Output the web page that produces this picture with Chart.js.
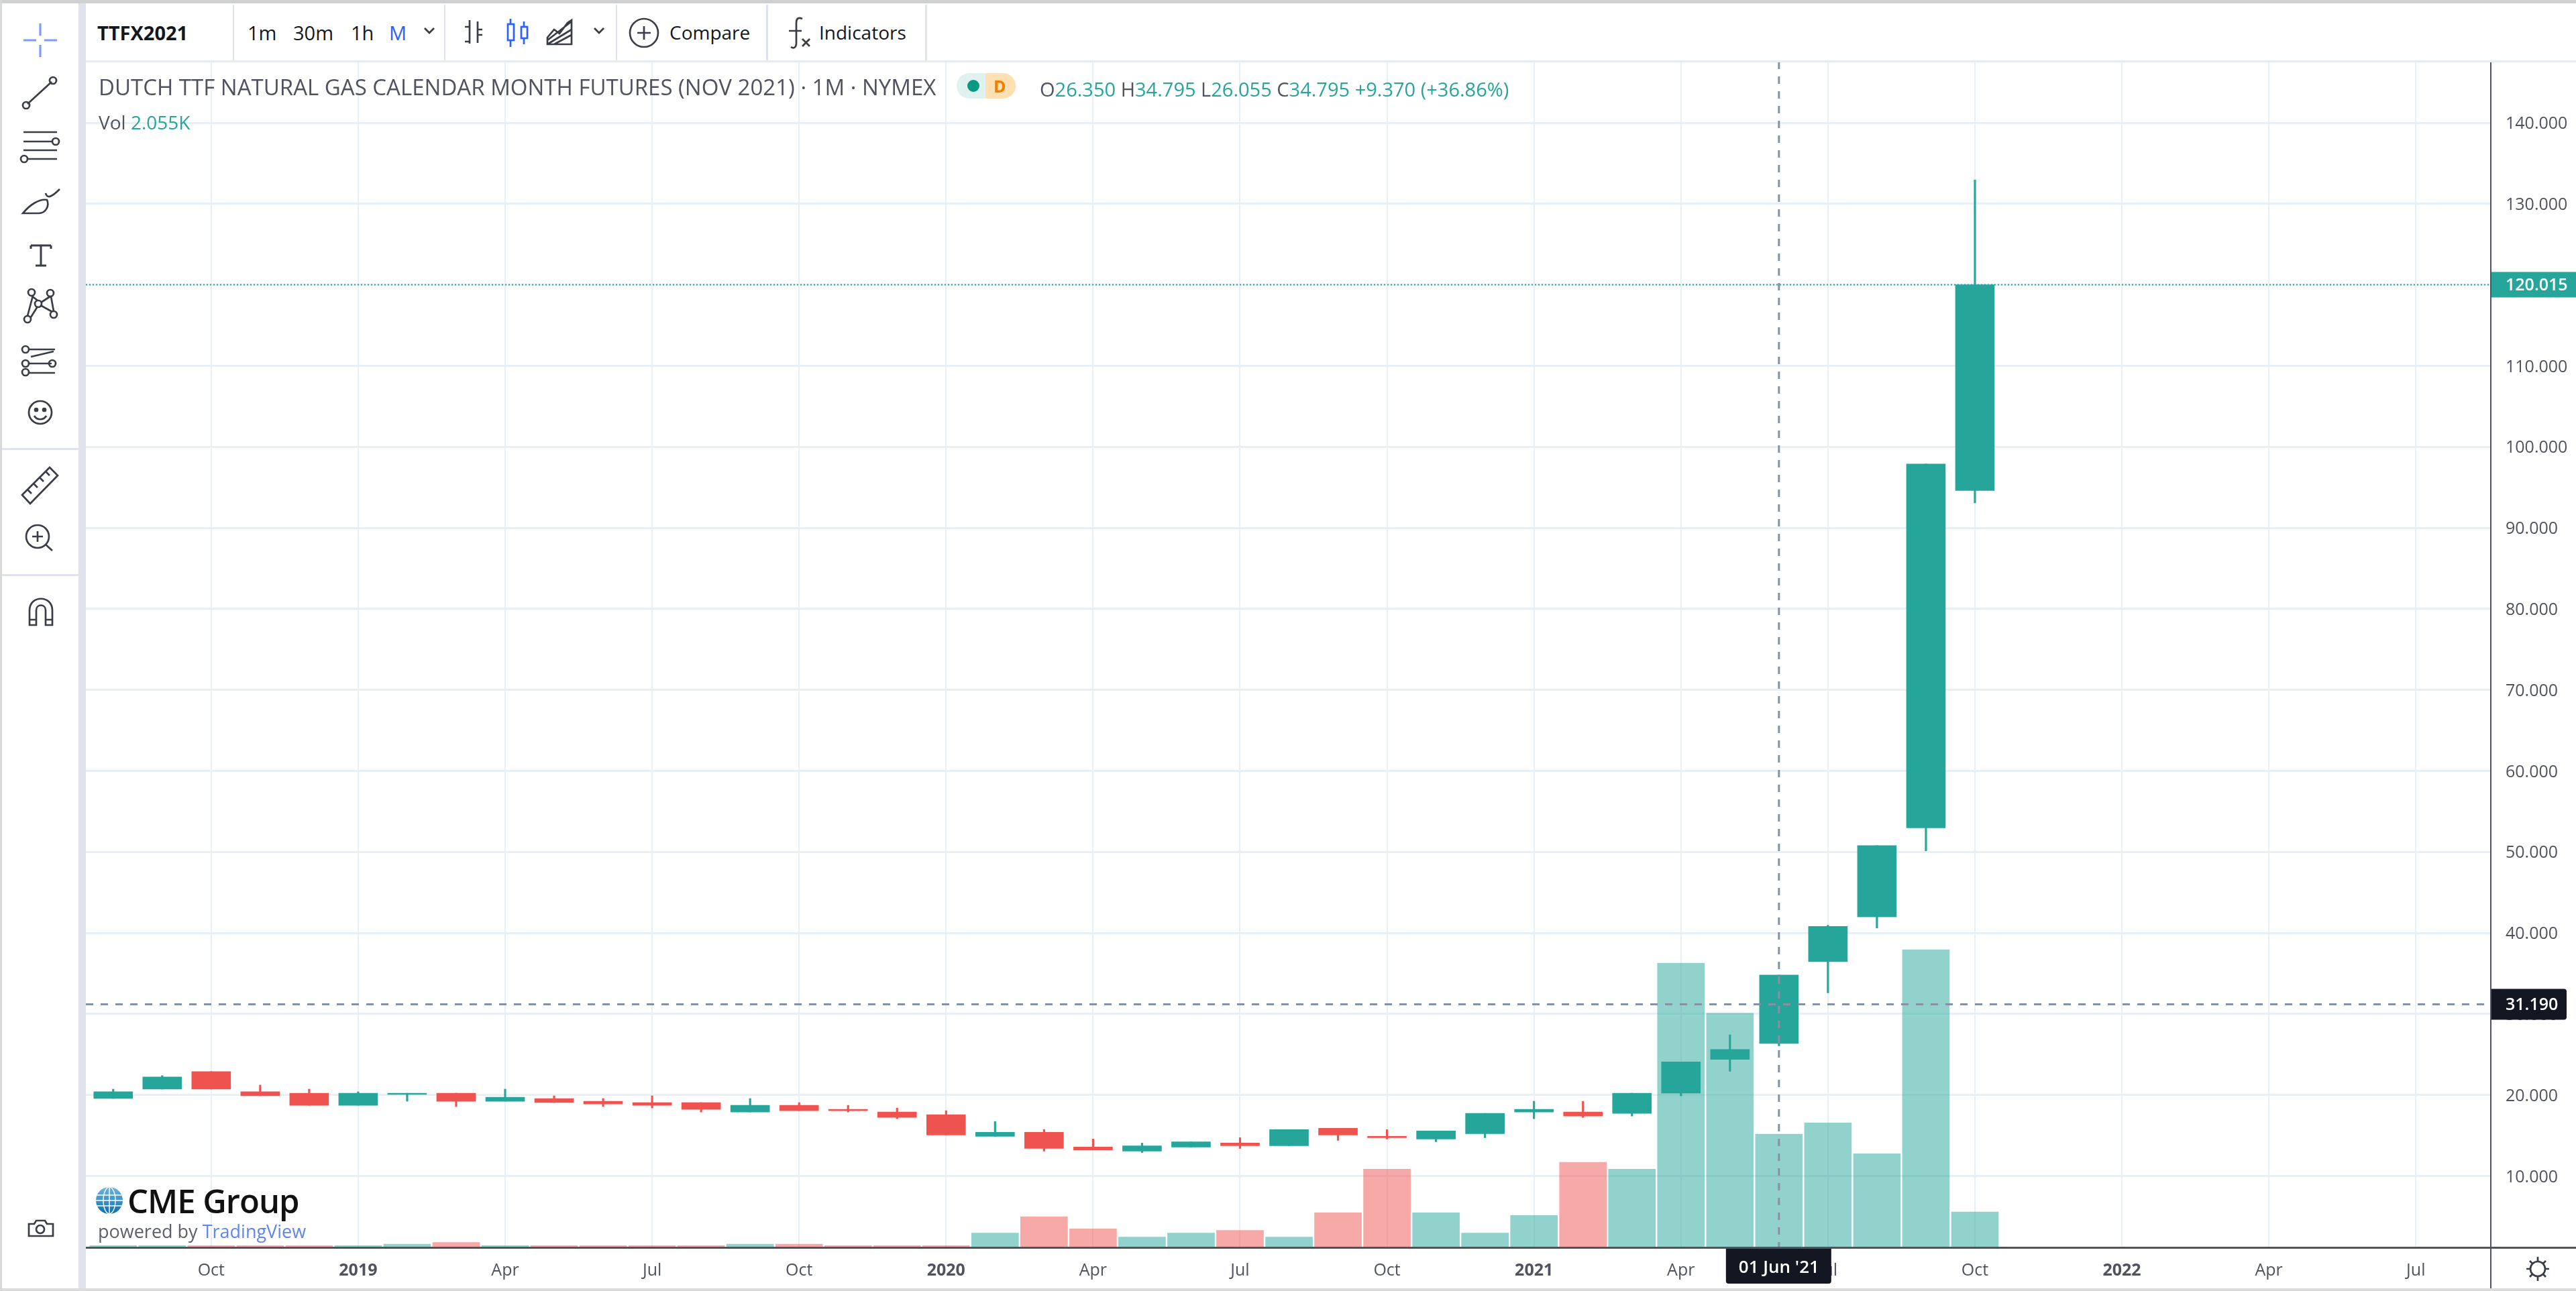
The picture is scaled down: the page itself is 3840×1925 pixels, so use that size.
<!DOCTYPE html>
<html>
<head>
<meta charset="utf-8">
<title>TTFX2021</title>
<script src="https://cdn.jsdelivr.net/npm/chart.js@4"></script>
<style>
    html, body { margin: 0; padding: 0; background: #fff; width: 3840px; height: 1925px; overflow: hidden; font-family: "Open Sans", sans-serif; }
    canvas { position: absolute; left: 0; top: 0; }
    .box { position: absolute; }
    .t { position: absolute; white-space: nowrap; transform: translateY(-50%); color: #131722; line-height: 1; }
    .legend { color: #50535e; font-size: 33px; }
    .teal { color: #26a69a; }
    svg.icon { position: absolute; fill: none; stroke: #3a3d45; stroke-width: 2.7; overflow: visible; }
</style>
</head>
<body>
<canvas id="chart" width="3840" height="1925"></canvas>

<div class="box" style="left:0;top:0;width:3840px;height:5px;background:#cfd0d1"></div>
<div class="box" style="left:0;top:1921px;width:3840px;height:4px;background:#dcdcdc"></div>
<div class="box" style="left:0;top:0;width:3px;height:1925px;background:#d8d9da"></div>

<!-- left drawing toolbar -->
<div class="box" style="left:117px;top:5px;width:11px;height:1916px;background:#e0e3eb"></div>
<div class="box" style="left:3px;top:668px;width:114px;height:3px;background:#e0e3eb"></div>
<div class="box" style="left:3px;top:856px;width:114px;height:3px;background:#e0e3eb"></div>
<svg class="icon" style="left:0;top:0" width="117" height="1925">
    <g stroke="#7d9cf5" stroke-width="3.2"><path d="M35 60h19M66 60h19M60 35v18M60 67v18"/></g>
    <path d="M41 155L77 122"/><circle cx="39" cy="157" r="5"/><circle cx="79" cy="120" r="5"/>
    <path d="M35 197h50M35 211h43M35 224h50M41 237h44"/><circle cx="83" cy="211" r="5"/><circle cx="36" cy="237" r="5"/>
    <path d="M34 318c10-12 24-22 36-20 4 9-2 20-12 20zM68 288c2 8 8 7 21-6"/>
    <path d="M46 366h30M61 366v30M53 396h16M46 366v5M76 366v5" stroke-width="3"/>
    <circle cx="47" cy="436" r="5"/><circle cx="75" cy="437" r="5"/><circle cx="57" cy="453" r="5"/><circle cx="41" cy="476" r="5"/><circle cx="80" cy="469" r="5"/>
    <path d="M47 441l9 7M75 442l-14 9M46 473l10-16M78 465l-18-10M49 441l-8 30M76 442l4 22"/>
    <path d="M43 521h39M43 542h34M43 556h39M46 532l34-8" /><circle cx="38" cy="521" r="5"/><circle cx="38" cy="542" r="5"/><circle cx="78" cy="542" r="5"/><circle cx="38" cy="555" r="5"/>
    <circle cx="60" cy="615" r="17"/><circle cx="54" cy="611" r="2" fill="#3a3d45"/><circle cx="66" cy="611" r="2" fill="#3a3d45"/><path d="M51 620c4 7 14 7 18 0"/>
    <path d="M33 738L74 697l12 12-41 42zM41 730l6 6M50 721l6 6M59 712l6 6M68 703l6 6"/>
    <circle cx="56" cy="800" r="17"/><path d="M68 812l10 9M48 800h16M56 792v16"/>
    <path d="M44 932v-22c0-23 34-23 34 0v22h-10v-22c0-10-14-10-14 0v22zM44 924h10M68 924h10"/>
    <path d="M43 1825h8l3-5h13l3 5h9v18H43z"/><circle cx="60" cy="1833" r="6"/>
</svg>

<!-- top toolbar -->
<div class="box" style="left:128px;top:5px;width:3712px;height:85px;background:#fff"></div>
<div class="box" style="left:128px;top:90px;width:3712px;height:3px;background:#e8ebf0"></div>
<div class="box" style="left:347px;top:7px;width:2px;height:83px;background:#e0e3eb"></div>
<div class="box" style="left:662px;top:7px;width:2px;height:83px;background:#e0e3eb"></div>
<div class="box" style="left:918px;top:7px;width:2px;height:83px;background:#e0e3eb"></div>
<div class="box" style="left:1142px;top:7px;width:3px;height:83px;background:#e0e3eb"></div>
<div class="box" style="left:1379px;top:7px;width:3px;height:83px;background:#e0e3eb"></div>
<div class="t" style="left:145px;top:48px;font-size:29px;font-weight:700">TTFX2021</div>
<div class="t" style="left:369px;top:48px;font-size:29px">1m</div>
<div class="t" style="left:437px;top:48px;font-size:29px">30m</div>
<div class="t" style="left:523px;top:48px;font-size:29px">1h</div>
<div class="t" style="left:580px;top:48px;font-size:29px;color:#2962ff">M</div>
<div class="t" style="left:998px;top:48px;font-size:28px">Compare</div>
<div class="t" style="left:1221px;top:48px;font-size:28px">Indicators</div>
<svg class="icon" style="left:0;top:0" width="1400" height="92">
    <path d="M633 42l7 7 7-7"/><path d="M886 42l7 7 7-7"/>
    <path d="M700 30v35M700 40h-7M700 62h-7M712 32v32M712 44h7M712 52h7"/>
    <g stroke="#2962ff"><rect x="757" y="36" width="9" height="24"/><path d="M761 28v8M761 60v10"/><rect x="777" y="40" width="9" height="17"/><path d="M781 32v8M781 57v9"/></g>
    <path d="M816 66v-10l10-12 8 6 12-16 6-4v36zM816 60l36-28M816 66l36-22M826 66l26-14"/>
    <circle cx="960" cy="49" r="21"/><path d="M950 49h20M960 39v20"/>
    <path d="M1196 28c-6-3-9 0-9 6v30c0 7-4 9-8 6M1176 46h19M1196 58l11 11M1207 58l-11 11"/>
</svg>

<!-- chart legend -->
<div class="t legend" style="left:147px;top:129px">DUTCH TTF NATURAL GAS CALENDAR MONTH FUTURES (NOV 2021) · 1M · NYMEX</div>
<div class="box" style="left:1426px;top:109px;width:88px;height:38px;border-radius:19px;background:#e0f2f0"></div>
<div class="box" style="left:1442px;top:119px;width:18px;height:18px;border-radius:9px;background:#089981"></div>
<div class="box" style="left:1469px;top:109px;width:45px;height:38px;border-radius:0 19px 19px 0;background:#ffe0b2"></div>
<div class="t" style="left:1481px;top:128px;font-size:25px;font-weight:700;color:#f57c00">D</div>
<div class="t legend" style="left:1550px;top:132px;font-size:29px">O<span class="teal">26.350</span> H<span class="teal">34.795</span> L<span class="teal">26.055</span> C<span class="teal">34.795</span> <span class="teal">+9.370 (+36.86%)</span></div>
<div class="t legend" style="left:147px;top:182px;font-size:28px">Vol <span class="teal">2.055K</span></div>

<!-- logo -->
<svg class="box" style="left:143px;top:1770px" width="40" height="40">
    <defs><linearGradient id="globe" x1="0" y1="0" x2="0" y2="1"><stop offset="0" stop-color="#6fb6dd"/><stop offset="1" stop-color="#0a6fae"/></linearGradient></defs>
    <ellipse cx="20" cy="20" rx="20" ry="20" fill="url(#globe)"/>
    <g fill="none" stroke="#fff" stroke-width="1.4"><ellipse cx="20" cy="20" rx="9" ry="20"/><path d="M20 0v40M1 12h38M0 20h40M1 28h38"/></g>
</svg>
<div class="t" style="left:190px;top:1790px;font-size:49px;font-weight:600;color:#111;letter-spacing:-1px">CME Group</div>
<div class="t" style="left:146px;top:1835px;font-size:27px;color:#5d606b">powered by <span style="color:#5f85f5">TradingView</span></div>

<!-- gear -->
<svg class="icon" style="left:3760px;top:1870px" width="46" height="46">
    <circle cx="23" cy="22" r="11"/><path d="M23 4v7M23 33v7M6 22h6M34 22h6M11 10l4 4M31 30l4 4M35 10l-4 4M15 30l-4 4"/>
</svg>

<script>
// monthly bars, first one is Aug 2018
var months = ["2018-08","2018-09","2018-10","2018-11","2018-12","2019-01","2019-02","2019-03","2019-04","2019-05","2019-06","2019-07","2019-08","2019-09","2019-10","2019-11","2019-12","2020-01","2020-02","2020-03","2020-04","2020-05","2020-06","2020-07","2020-08","2020-09","2020-10","2020-11","2020-12","2021-01","2021-02","2021-03","2021-04","2021-05","2021-06","2021-07","2021-08","2021-09","2021-10"];
var opens = [19.56,20.72,22.89,20.39,20.22,18.72,20.06,20.22,19.22,19.56,19.22,19.06,19.06,17.89,18.72,18.22,17.89,17.56,14.89,15.39,13.56,13.06,13.56,14.06,13.72,15.89,14.89,14.56,15.22,17.89,17.89,17.72,20.22,24.38,26.35,36.45,41.98,52.97,94.6];
var highs = [20.72,22.39,22.89,21.22,20.72,20.39,20.22,20.22,20.72,19.89,19.56,19.89,19.06,19.56,19.06,18.72,18.39,18.06,16.72,15.72,14.56,14.06,14.22,14.72,15.72,15.89,15.72,15.56,17.72,19.22,19.22,20.22,24.08,27.42,34.795,40.95,50.78,97.89,132.95];
var lows = [19.56,20.72,20.72,19.89,18.72,18.72,19.22,18.56,19.22,19.06,18.56,18.39,17.89,17.89,18.06,17.89,17.06,15.06,14.89,13.06,13.22,12.89,13.56,13.39,13.72,14.39,14.56,14.22,14.72,17.06,17.22,17.39,19.89,22.92,26.055,32.6,40.6,50.13,93.08];
var closes = [20.39,22.22,20.72,19.89,18.72,20.22,20.22,19.22,19.72,19.06,18.89,18.72,18.22,18.72,18.06,18.06,17.22,15.06,15.39,13.39,13.22,13.72,14.22,13.72,15.72,15.06,14.72,15.56,17.72,18.22,17.39,20.22,24.08,25.61,34.795,40.8,50.78,97.89,120.015];
var volumes = [33,33,33,33,33,33,60,90,33,33,33,33,33,60,60,33,33,33,261,555,335,188,261,310,188,628,1420,628,261,579,1542,1420,5154,4246,2055,2258,1699,5397,643];

var priceTicks = [10,20,30,40,50,60,70,80,90,100,110,120,130,140];
var timeTickBars = [2,5,8,11,14,17,20,23,26,29,32,35,38,41,44,47];
var timeTickLabels = ["Oct","2019","Apr","Jul","Oct","2020","Apr","Jul","Oct","2021","Apr","Jul","Oct","2022","Apr","Jul"];

var crossBar = 34;
var crossPrice = 31.19;
var crossDateLabel = "01 Jun '21";
var lastPrice = 120.015;

var GREEN = "#26a69a";
var RED = "#ef5350";
var GRID = "#e8f0f5";
var DARK = "#131722";
var FONT = '"Open Sans", sans-serif';

function barColor(i) { return closes[i] >= opens[i] ? GREEN : RED; }
function volColor(i) { return closes[i] >= opens[i] ? "rgba(38,166,154,0.5)" : "rgba(239,83,80,0.5)"; }

var overlay = {
    id: "overlay",
    afterDatasetsDraw: function(chart) {
        var c = chart.ctx;
        var area = chart.chartArea;
        var x = chart.scales.x.getPixelForValue(crossBar);
        var yCross = chart.scales.y.getPixelForValue(crossPrice);
        var yLast = chart.scales.y.getPixelForValue(lastPrice);

        c.save();
        // last price line
        c.strokeStyle = GREEN;
        c.lineWidth = 2;
        c.setLineDash([2, 3]);
        c.beginPath(); c.moveTo(area.left, yLast); c.lineTo(area.right, yLast); c.stroke();

        // crosshair
        c.strokeStyle = "#8692a3";
        c.lineWidth = 3;
        c.setLineDash([11, 11]);
        c.beginPath(); c.moveTo(x, area.top); c.lineTo(x, area.bottom); c.stroke();
        c.beginPath(); c.moveTo(area.left, yCross); c.lineTo(area.right, yCross); c.stroke();
        c.restore();
    },
    afterDraw: function(chart) {
        var c = chart.ctx;
        var area = chart.chartArea;
        var x = chart.scales.x.getPixelForValue(crossBar);
        var yCross = chart.scales.y.getPixelForValue(crossPrice);
        var yLast = chart.scales.y.getPixelForValue(lastPrice);

        c.save();
        // pane borders run on through the axis corner
        c.fillStyle = "#50535e";
        c.fillRect(area.left, area.bottom - 1, chart.width - area.left, 3);
        c.fillRect(area.right - 1, area.top, 2, chart.height - area.top);

        c.font = '600 25px ' + FONT;
        c.textBaseline = "middle";

        c.fillStyle = GREEN;
        c.fillRect(area.right + 1, yLast - 19, chart.width - area.right, 38);
        c.fillStyle = "#fff";
        c.fillText(lastPrice.toFixed(3), area.right + 22, yLast + 1);

        c.fillStyle = DARK;
        c.beginPath(); c.roundRect(area.right + 1, yCross - 23, 112, 46, [0, 4, 4, 0]); c.fill();
        c.fillStyle = "#fff";
        c.fillText(crossPrice.toFixed(3), area.right + 22, yCross + 1);

        c.fillStyle = DARK;
        c.beginPath(); c.roundRect(x - 79, area.bottom + 2, 157, 52, [0, 0, 4, 4]); c.fill();
        c.fillStyle = "#fff";
        c.textAlign = "center";
        c.font = '600 26px ' + FONT;
        c.fillText(crossDateLabel, x, area.bottom + 31);
        c.restore();
    }
};

var allBars = months.map(function(m, i) { return i; });

new Chart(document.getElementById("chart"), {
    type: "bar",
    data: {
        datasets: [{
            label: "Body",
            order: 1,
            grouped: false,
            barThickness: 58,
            yAxisID: "y",
            data: allBars.map(function(i) { return { x: i, y: [opens[i], closes[i]] }; }),
            backgroundColor: allBars.map(barColor)
        }, {
            label: "Wick",
            order: 2,
            grouped: false,
            barThickness: 2.5,
            yAxisID: "y",
            data: allBars.map(function(i) { return { x: i, y: [lows[i], highs[i]] }; }),
            backgroundColor: allBars.map(barColor)
        }, {
            label: "Vol",
            order: 3,
            grouped: false,
            barThickness: 70,
            yAxisID: "vol",
            data: allBars.map(function(i) { return { x: i, y: volumes[i] }; }),
            backgroundColor: allBars.map(volColor)
        }]
    },
    options: {
        responsive: false,
        animation: false,
        layout: { padding: { left: 128, top: 92, right: 0, bottom: 0 } },
        plugins: { legend: { display: false }, tooltip: { enabled: false } },
        scales: {
            x: {
                type: "linear",
                offset: false,
                min: -0.558,
                max: 48.53,
                afterBuildTicks: function(axis) {
                    axis.ticks = timeTickBars.map(function(v) { return { value: v }; });
                },
                afterFit: function(axis) { axis.height = 65; },
                border: { display: false },
                grid: { offset: false, color: GRID, lineWidth: 2, drawTicks: false },
                ticks: {
                    autoSkip: false,
                    maxRotation: 0,
                    padding: 20,
                    color: "#50535e",
                    font: function(ctx) {
                        var isYear = ctx.tick && /^20/.test(timeTickLabels[timeTickBars.indexOf(ctx.tick.value)]);
                        return { family: FONT, size: 25, weight: isYear ? "700" : "400" };
                    },
                    callback: function(v) { return timeTickLabels[timeTickBars.indexOf(v)]; }
                }
            },
            y: {
                position: "right",
                min: 1.18,
                max: 147.54,
                afterBuildTicks: function(axis) {
                    axis.ticks = priceTicks.map(function(v) { return { value: v }; });
                },
                afterFit: function(axis) { axis.width = 127; },
                border: { display: false },
                grid: { color: GRID, lineWidth: 3, drawTicks: false },
                ticks: {
                    padding: 22,
                    labelOffset: 2,
                    color: "#50535e",
                    font: { family: FONT, size: 25 },
                    callback: function(v) { return v.toFixed(3); }
                }
            },
            vol: {
                display: false,
                min: 0,
                max: 21500
            }
        }
    },
    plugins: [overlay]
});
</script>
</body>
</html>
